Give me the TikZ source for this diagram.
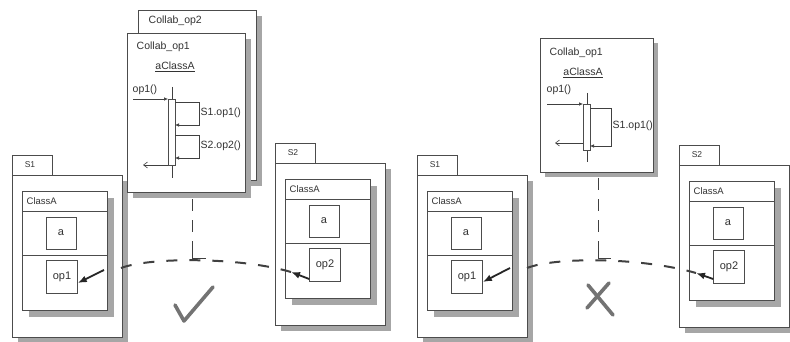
\documentclass[tikz,border=0pt]{standalone}
\usepackage{fontspec}
\setmainfont{Liberation Sans}
\usepackage{tikz}
\usetikzlibrary{arrows.meta, calc}

\tikzset{
  frame/.style={draw=black!70, line width=0.6pt},
  shad/.style={fill=black!35},
  lbl/.style={inner sep=0.5pt, text=black!80, font=\fontsize{10.5}{11}\selectfont},
  tablbl/.style={inner sep=0.5pt, text=black!80, font=\fontsize{8.5}{9}\selectfont},
  attbox/.style={frame, fill=white, minimum width=30pt, minimum height=32pt, inner sep=0pt, text=black!80, font=\fontsize{11}{12}\selectfont},
  msg/.style={black!75, line width=0.6pt, -{Latex[length=4pt,width=3.5pt]}},
  ret/.style={black!75, line width=0.6pt, -{Straight Barb[length=4pt,width=6pt]}},
  fat/.style={black!85, line width=1.8pt, -{Latex[length=9pt,width=7pt]}},
  link/.style={black!75, line width=2pt, dash pattern=on 11pt off 12pt},
  anchorln/.style={black!75, line width=1pt},
  verdict/.style={black!55, line width=3.6pt, line join=round, line cap=round}
}

\begin{document}
\begin{tikzpicture}[x=1pt,y=-1pt]
\useasboundingbox (0,0) rectangle (790,342);

% packages with ClassA
\foreach \ox/\oy/\pk/\op/\nm in {12/155/S1/op1/la, 275/143/S2/op2/lb, 417/155/S1/op1/ra, 679/145/S2/op2/rb} {
  \fill[shad] (\ox+6,\oy+26) rectangle (\ox+116,\oy+188);
  \draw[frame,fill=white] (\ox,\oy+20) rectangle (\ox+110,\oy+182);
  \draw[frame,fill=white] (\ox,\oy) rectangle (\ox+40,\oy+20);
  \node[tablbl] (tab\nm) at (\ox+18,\oy+10) {\pk};
  \fill[shad] (\ox+17,\oy+43) rectangle (\ox+102,\oy+162);
  \draw[frame,fill=white] (\ox+10,\oy+36) rectangle (\ox+95,\oy+155);
  \draw[frame] (\ox+10,\oy+56) -- (\ox+95,\oy+56);
  \draw[frame] (\ox+10,\oy+100) -- (\ox+95,\oy+100);
  \node[tablbl,anchor=west,font=\fontsize{9.5}{10}\selectfont] (cls\nm) at (\ox+14,\oy+46) {ClassA};
  \node[attbox] (att\nm) at (\ox+49,\oy+78) {a};
  \node[attbox,minimum width=31pt,minimum height=33pt] (op\nm) at (\ox+50,\oy+122) {\op};
}

% left collaborations
\fill[shad] (144,16) rectangle (262,186);
\draw[frame,fill=white] (138,10) rectangle (256,180);
\node[lbl,anchor=west] (colB) at (148,21) {Collab\_op2};
\fill[shad] (133,39) rectangle (251,198);
\draw[frame,fill=white] (127,33) rectangle (245,192);
\node[lbl,anchor=west] (colA) at (136,47) {Collab\_op1};
\node[lbl] (objA) at (175,67) {\underline{aClassA}};
\node[lbl,anchor=west] (callA) at (132,90) {op1()};
\draw[black!75,line width=0.6pt] (172,87) -- (172,178);
\draw[frame,fill=white] (168,99) rectangle (175,165);
\coordinate (inA) at (133,99);
\draw[msg] (inA) -- (168,99);
\draw[msg] (175,102) -- (199,102) -- (199,125) -- (175,125);
\node[lbl,anchor=west] (selfA) at (200,113) {S1.op1()};
\draw[msg] (175,135) -- (199,135) -- (199,158) -- (175,158);
\node[lbl,anchor=west] (selfB) at (200,146) {S2.op2()};
\coordinate (backA) at (143,165);
\draw[ret] (168,165) -- (backA);

% right collaboration
\fill[shad] (545,43) rectangle (658,177);
\draw[frame,fill=white] (540,38) rectangle (653,172);
\node[lbl,anchor=west] (colC) at (549,53) {Collab\_op1};
\node[lbl] (objC) at (583,73) {\underline{aClassA}};
\node[lbl,anchor=west] (callC) at (546,90) {op1()};
\draw[black!75,line width=0.6pt] (587,93) -- (587,162);
\draw[frame,fill=white] (583,104) rectangle (590,150);
\coordinate (inC) at (547,104);
\draw[msg] (inC) -- (583,104);
\draw[msg] (590,108) -- (611,108) -- (611,146) -- (590,146);
\node[lbl,anchor=west] (selfC) at (612,126) {S1.op1()};
\coordinate (backC) at (555,143);
\draw[ret] (583,143) -- (backC);

% dependencies, left (allowed)
\coordinate (tla) at (104,270);
\draw[fat] (tla) -- ($(opla.east)+(0,6)$);
\coordinate (hlb) at (291,272);
\draw[fat] ($(oplb.west)+(0,14)$) -- (hlb);
\coordinate (sla) at (121,268);
\draw[link] (sla) .. controls (150,257) and (240,257) .. (hlb);
\coordinate (ancA) at (192,199);
\coordinate (ftA) at (192,258);
\draw[anchorln,dash pattern=on 12pt off 9pt] (ancA) -- (ftA);
\draw[anchorln] (192,246) -- (ftA) -- (206,258);
\draw[verdict] (175,305) -- (184,321) -- (213,287);

% dependencies, right (not allowed)
\coordinate (tra) at (510,268);
\draw[fat] (tra) -- ($(opra.east)+(0,5)$);
\coordinate (hrb) at (696,273);
\draw[fat] ($(oprb.west)+(0,12)$) -- (hrb);
\coordinate (sra) at (527,268);
\draw[link] (sra) .. controls (555,257) and (640,257) .. (hrb);
\coordinate (ancC) at (598,178);
\coordinate (ftC) at (598,258);
\draw[anchorln,dash pattern=on 12pt off 9pt] (ancC) -- (ftC);
\draw[anchorln] (598,246) -- (ftC) -- (611,258);
\draw[verdict] (588,285) -- (613,315);
\draw[verdict] (609,283) -- (587,308);
\end{tikzpicture}
\end{document}
